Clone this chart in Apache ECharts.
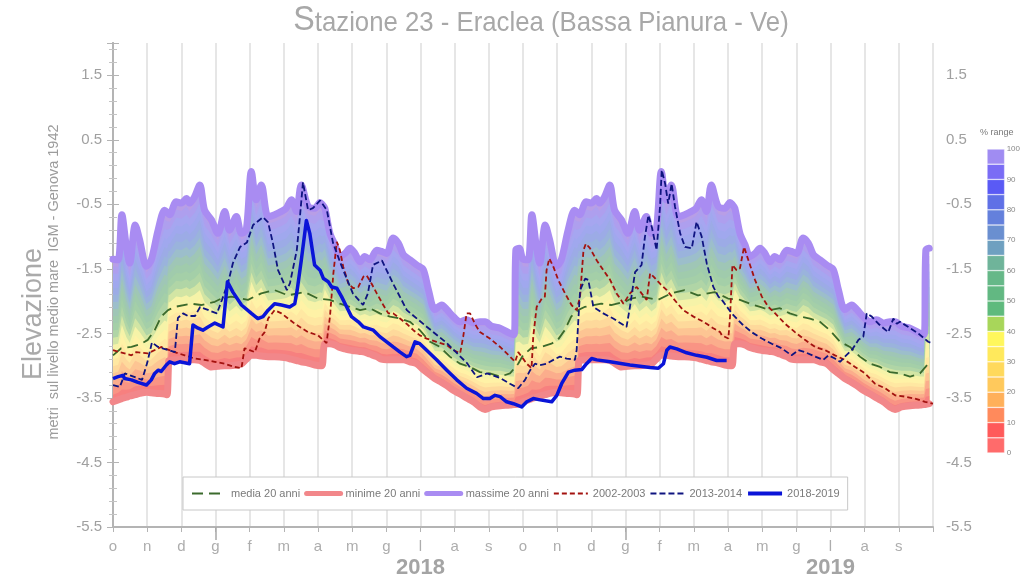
<!DOCTYPE html>
<html><head><meta charset="utf-8">
<script src="https://cdn.jsdelivr.net/npm/echarts@6/dist/echarts.min.js"></script>
<style>html,body{margin:0;padding:0;background:#fff}#c{width:1023px;height:586px}</style>
</head><body><div id="c"></div>
<script>
// ---------- categories / tick labels ----------
const monthLetters = ['o','n','d','g','f','m','a','m','g','l','a','s'];
const yearTickMonths = [3, 15];          // long ticks (gennaio)
const yearLabelMonths = [9, 21];
const yearLabels = ['2018', '2019'];
const rangeCells = ['0-5','5-10','10-15','15-20','20-25','25-30','30-35','35-40','40-45','45-50',
  '50-55','55-60','60-65','65-70','70-75','75-80','80-85','85-90','90-95','95-100'];

// ---------- 20-year envelope (months since 1 Oct 2017) ----------
const envMonth = [
  0,0.15,0.26,0.39,0.49,0.65,0.78,0.98,1.12,1.32,
  1.51,1.58,1.63,1.66,1.85,2.00,2.15,2.24,2.39,2.54,
  2.68,2.88,3.07,3.27,3.41,3.61,3.76,3.90,4.05,4.19,
  4.34,4.54,4.73,4.93,5.07,5.22,5.37,5.51,5.71,5.91,
  6.06,6.12,6.20,6.35,6.50,6.64,6.79,6.94,7.08,7.23,
  7.37,7.52,7.72,7.86,8.01,8.20,8.35,8.50,8.69,8.89,
  9.08,9.23,9.42,9.62,9.77,9.96,10.16,10.35,10.55,10.74,
  10.89,11.08,11.33,11.62,11.74,11.79,11.89,
  12.00,12.15,12.26,12.39,12.49,12.65,12.78,12.98,13.12,13.32,
  13.51,13.58,13.63,13.66,13.85,14.00,14.15,14.24,14.39,14.54,
  14.68,14.88,15.07,15.27,15.41,15.61,15.76,15.90,16.05,16.19,
  16.34,16.54,16.73,16.93,17.07,17.22,17.37,17.51,17.71,17.91,
  18.06,18.12,18.20,18.35,18.50,18.64,18.79,18.94,19.08,19.23,
  19.37,19.52,19.72,19.86,20.01,20.20,20.35,20.50,20.69,20.89,
  21.08,21.23,21.42,21.62,21.77,21.96,22.16,22.35,22.55,22.74,
  22.89,23.08,23.33,23.62,23.74,23.79,23.89
];
const envMinYear = [
  -3.56,-3.53,-3.51,-3.49,-3.47,-3.45,-3.43,-3.41,-3.42,-3.43,
  -3.44,-3.45,-2.93,-2.92,-2.91,-2.91,-2.91,-2.91,-2.91,-2.92,
  -2.96,-3.02,-3.01,-3.00,-3.00,-2.99,-2.97,-2.90,-2.84,-2.84,
  -2.85,-2.86,-2.86,-2.87,-2.88,-2.90,-2.92,-2.94,-2.96,-2.99,
  -3.00,-3.00,-2.66,-2.66,-2.68,-2.72,-2.74,-2.76,-2.77,-2.78,
  -2.79,-2.82,-2.86,-2.90,-2.91,-2.91,-2.91,-2.91,-2.94,-2.97,
  -3.06,-3.12,-3.20,-3.26,-3.31,-3.38,-3.44,-3.50,-3.56,-3.64,
  -3.68,-3.64,-3.62,-3.61,-3.60,-3.60,-3.59
];
const envMaxYear = [
  -1.35,-1.36,-0.66,-1.15,-1.41,-0.82,-1.05,-1.46,-1.36,-0.90,
  -0.59,-0.62,-0.65,-0.66,-0.46,-0.48,-0.41,-0.48,-0.38,-0.20,
  -0.59,-0.74,-0.95,-0.61,-0.90,-0.69,-0.95,-0.90,0.01,-0.43,
  -0.20,-0.69,-0.66,-0.61,-0.56,-0.43,-0.61,-0.20,-0.53,-0.56,
  -0.47,-0.50,-0.56,-0.95,-1.13,-1.31,-1.26,-1.18,-1.26,-1.39,
  -1.31,-1.36,-1.21,-1.23,-1.26,-1.02,-1.10,-1.28,-1.36,-1.44,
  -1.51,-1.82,-2.13,-2.06,-2.13,-2.24,-2.32,-2.29,-2.34,-2.32,
  -2.32,-2.39,-2.42,-2.50,-2.52,-1.21,-1.18
];
const envMin = envMinYear.concat(envMinYear);
const envMax = envMaxYear.concat(envMaxYear);

// media 20 anni
const mediaMonth = [
  0,0.24,0.54,0.83,1.02,1.22,1.41,1.61,1.80,2.29,2.58,2.98,3.17,3.46,3.95,4.34,4.73,5.12,5.61,6.0,
  6.35,6.64,6.94,7.23,7.52,7.81,8.11,8.40,8.69,8.98,9.28,9.57,9.86,10.16,10.45,10.74,11.03,11.33,11.62,11.86,
  12,12.24,12.54,12.83,13.02,13.22,13.41,13.61,13.80,14.29,14.58,14.98,15.17,15.46,15.95,16.34,16.73,17.12,17.61,18.0,
  18.35,18.64,18.94,19.23,19.52,19.81,20.11,20.40,20.69,20.98,21.28,21.57,21.86,22.16,22.45,22.74,23.03,23.33,23.62,23.86
];
const mediaYear = [
  -2.84,-2.73,-2.71,-2.66,-2.60,-2.45,-2.24,-2.14,-2.09,-2.04,-2.06,-2.01,-1.96,-1.93,-1.98,-1.88,-1.83,-1.91,-1.86,-1.96,
  -1.98,-2.04,-2.09,-2.14,-2.11,-2.19,-2.24,-2.27,-2.32,-2.45,-2.63,-2.71,-2.86,-2.97,-3.02,-3.10,-3.12,-3.17,-3.12,-2.97
];
const mediaVal = mediaYear.concat(mediaYear);

// 2002-2003
const y0203 = [[0,-2.76],[0.34,-2.81],[0.54,-2.84],[0.68,-2.79],[1.02,-2.81],[1.41,-2.71],[1.80,-2.79],[2.10,-2.84],
  [2.39,-2.89],[2.68,-2.91],[2.98,-2.94],[3.27,-2.97],[3.56,-3.02],[3.76,-3.04],[3.85,-2.73],[4.00,-2.76],[4.15,-2.79],
  [4.29,-2.58],[4.44,-2.48],[4.54,-2.27],[4.73,-2.14],[4.93,-2.19],[5.32,-2.35],[5.71,-2.48],[6.0,-2.53],[6.25,-2.65],
  [6.35,-2.24],[6.45,-1.57],[6.55,-1.08],[6.64,-1.21],[6.74,-1.47],[6.89,-1.73],[7.03,-1.80],[7.18,-1.78],[7.33,-1.62],
  [7.42,-1.60],[7.57,-1.73],[7.72,-1.88],[7.91,-2.06],[8.06,-2.19],[8.20,-2.19],[8.40,-2.27],[8.59,-2.35],[8.79,-2.45],
  [8.98,-2.53],[9.18,-2.58],[9.47,-2.63],[9.77,-2.68],[9.96,-2.76],[10.16,-2.81],[10.25,-2.55],[10.35,-2.19],[10.45,-2.19],
  [10.59,-2.35],[10.74,-2.48],[11.03,-2.58],[11.33,-2.71],[11.62,-2.86],[11.77,-2.94],[11.86,-2.79],[11.96,-2.86],
  [12.11,-2.97],[12.25,-3.04],[12.30,-2.55],[12.40,-2.09],[12.55,-1.96],[12.64,-1.93],[12.69,-1.52],[12.77,-1.34],
  [12.89,-1.47],[13.03,-1.67],[13.23,-1.88],[13.42,-2.06],[13.57,-2.14],[13.67,-1.93],[13.77,-1.21],[13.84,-1.11],
  [13.96,-1.18],[14.16,-1.37],[14.35,-1.52],[14.55,-1.67],[14.74,-1.88],[14.94,-2.04],[15.13,-1.88],[15.33,-1.78],
  [15.47,-1.88],[15.62,-1.98],[15.72,-1.57],[15.82,-1.62],[16.01,-1.73],[16.21,-1.83],[16.40,-1.96],[16.69,-2.14],
  [16.99,-2.24],[17.28,-2.32],[17.57,-2.42],[17.77,-2.48],[17.82,-2.53],[18.01,-2.58],[18.06,-2.24],[18.13,-1.44],
  [18.25,-1.52],[18.35,-1.49],[18.47,-1.16],[18.60,-1.37],[18.79,-1.67],[18.99,-1.93],[19.18,-2.09],[19.38,-2.19],
  [19.67,-2.35],[19.96,-2.48],[20.25,-2.60],[20.55,-2.71],[20.84,-2.76],[21.13,-2.84],[21.42,-2.91],[21.72,-3.02],
  [22.01,-3.12],[22.30,-3.28],[22.60,-3.35],[22.89,-3.46],[23.19,-3.48],[23.47,-3.51],[23.77,-3.56],[24.0,-3.59]];

// 2013-2014
const y1314 = [[0,-3.30],[0.2,-3.33],[0.35,-3.12],[0.85,-3.22],[1.0,-2.96],[1.14,-2.64],[1.32,-2.71],[1.81,-2.79],
  [1.90,-2.26],[2.05,-2.19],[2.19,-2.23],[2.40,-2.23],[2.55,-2.09],[3.04,-2.19],[3.19,-1.98],[3.37,-1.71],[3.51,-1.41],
  [3.72,-1.16],[3.92,-1.09],[4.10,-0.82],[4.39,-0.70],[4.54,-0.78],[4.68,-1.10],[4.83,-1.52],[5.09,-1.83],[5.18,-1.72],
  [5.38,-1.21],[5.47,-0.70],[5.56,-0.16],[5.71,-0.59],[5.85,-0.56],[6.06,-0.44],[6.26,-0.59],[6.44,-1.10],[6.70,-1.47],
  [7.02,-1.88],[7.32,-2.06],[7.46,-1.88],[7.61,-1.44],[7.87,-1.37],[8.19,-1.72],[8.60,-2.14],[9.19,-2.40],[9.77,-2.65],
  [10.36,-2.96],[10.65,-3.18],[10.95,-3.12],[11.33,-3.19],[11.62,-3.28],[11.86,-3.35],[12.06,-3.22],[12.21,-3.07],
  [12.35,-2.97],[12.50,-2.99],[12.69,-2.97],[12.89,-2.91],[13.08,-2.86],[13.28,-2.89],[13.52,-2.91],[13.57,-2.76],
  [13.67,-1.83],[13.82,-1.65],[13.91,-1.67],[14.06,-2.09],[14.35,-2.19],[14.64,-2.27],[14.94,-2.37],[15.03,-2.40],
  [15.13,-2.09],[15.28,-1.55],[15.47,-1.44],[15.57,-1.00],[15.67,-0.67],[15.77,-0.85],[15.91,-1.21],[16.01,-0.54],
  [16.06,0.03],[16.16,-0.18],[16.25,-0.49],[16.35,-0.18],[16.45,-0.54],[16.60,-0.95],[16.74,-1.16],[16.94,-1.18],
  [17.08,-0.77],[17.23,-1.00],[17.38,-1.42],[17.57,-1.78],[17.72,-1.93],[17.82,-1.98],[18.11,-2.19],[18.40,-2.35],
  [18.69,-2.48],[18.99,-2.58],[19.28,-2.66],[19.57,-2.73],[19.86,-2.84],[20.06,-2.76],[20.25,-2.79],[20.55,-2.86],
  [20.79,-2.91],[20.94,-2.84],[21.13,-2.89],[21.28,-2.94],[21.42,-2.86],[21.62,-2.76],[21.82,-2.60],[21.96,-2.55],
  [22.06,-2.19],[22.21,-2.24],[22.40,-2.35],[22.55,-2.42],[22.69,-2.48],[22.84,-2.27],[22.94,-2.35],[23.03,-2.32],
  [23.28,-2.40],[23.57,-2.50],[23.86,-2.63],[24.0,-2.66]];

// 2018-2019
const y1819 = [[0,-3.20],[0.15,-3.17],[0.29,-3.15],[0.34,-3.20],[0.54,-3.22],[0.73,-3.26],[0.98,-3.30],[1.12,-3.22],
  [1.22,-3.12],[1.32,-3.07],[1.41,-3.09],[1.56,-2.99],[1.66,-2.94],[1.80,-2.97],[1.95,-2.94],[2.24,-2.97],[2.34,-2.37],
  [2.49,-2.42],[2.63,-2.45],[2.78,-2.40],[2.98,-2.34],[3.22,-2.40],[3.35,-1.70],[3.51,-1.86],[3.76,-2.06],[4.05,-2.19],
  [4.24,-2.27],[4.39,-2.24],[4.54,-2.14],[4.73,-2.04],[4.93,-2.06],[5.17,-2.09],[5.32,-2.04],[5.39,-1.83],[5.51,-1.37],
  [5.66,-0.75],[5.76,-0.95],[5.90,-1.44],[6.06,-1.52],[6.16,-1.65],[6.30,-1.70],[6.40,-1.78],[6.55,-1.80],[6.69,-1.93],
  [6.84,-2.09],[6.98,-2.24],[7.18,-2.32],[7.33,-2.40],[7.62,-2.45],[7.81,-2.55],[8.01,-2.63],[8.20,-2.71],[8.40,-2.79],
  [8.59,-2.86],[8.69,-2.84],[8.84,-2.63],[8.98,-2.66],[9.18,-2.76],[9.47,-2.91],[9.77,-3.07],[10.06,-3.22],[10.35,-3.35],
  [10.64,-3.43],[10.84,-3.51],[11.03,-3.51],[11.18,-3.46],[11.33,-3.48],[11.52,-3.56],[11.72,-3.59],[11.96,-3.64],
  [12.11,-3.56],[12.30,-3.51],[12.50,-3.53],[12.84,-3.56],[12.99,-3.46],[13.13,-3.28],[13.33,-3.10],[13.52,-3.07],
  [13.72,-3.06],[13.86,-2.97],[14.01,-2.89],[14.16,-2.91],[14.55,-2.94],[15.13,-2.99],[15.72,-3.03],[15.96,-3.04],
  [16.11,-2.97],[16.21,-2.76],[16.30,-2.71],[16.50,-2.74],[16.79,-2.80],[17.08,-2.84],[17.38,-2.87],[17.67,-2.92],[17.96,-2.92]];

// ---------- styles ----------
const SANS = "'Liberation Sans',Arial,sans-serif";
const LEGEND_COLORS = ['#ff6b6b','#ff5a5a','#ff8a5c','#ffb05a','#ffc95c','#ffd95c','#ffe95c','#fff75c','#a8d65a','#5fba7d',
  '#62b882','#66b888','#6fb49a','#6fa0c0','#6a8fd0','#6480dc','#5f70e6','#5a5af5','#7a6cf5','#a08cf2'];
const BAND_COLORS = ['#f7807f','#f99484','#fbad8c','#fdc593','#fed99b','#ffe8a2','#fff2a6','#f6f3a8','#d2e5a4','#b0d5a6',
  '#a4cfa8','#a0cbac','#9fc6b6','#9cbecb','#9ab3dc','#9cabe6','#a0a8ee','#a6a6f0','#ae9fee','#b89ee6'];

const chart = echarts.init(document.getElementById('c'), null, {renderer: 'canvas'});
const pairs = (ms, vs) => ms.map((m, i) => [m, vs[i]]);
const bandData = BAND_COLORS.map((c, k) => [BAND_COLORS.length - 1 - k, -1]);

const yAxisCommon = {
  type: 'value', min: -5.5, max: 2.0, interval: 1, gridIndex: 0,
  axisLine: {show: true, lineStyle: {color: '#b4b4b4', width: 2}},
  axisTick: {show: true, length: 6, lineStyle: {color: '#b4b4b4'}},
  minorTick: {show: true, splitNumber: 5, length: 4, lineStyle: {color: '#c4c4c4'}},
  splitLine: {show: false},
  axisLabel: {showMaxLabel: false, fontSize: 15, color: '#a0a0a0', fontFamily: SANS, margin: 11}
};
const noSym = {itemStyle: {opacity: 0}};

chart.setOption({
  animation: false,
  backgroundColor: '#fff',
  title: [
    {text: '% range', left: 980, top: 128, padding: 0,
     textStyle: {fontSize: 9, color: '#777', fontWeight: 'normal', fontFamily: SANS}}
  ],
  graphic: [
    {type: 'text', x: 541, y: 20, scaleX: 0.92, scaleY: 1,
     style: {text: '{s|S}{t|tazione 23 - Eraclea (Bassa Pianura - Ve)}', textAlign: 'center', textVerticalAlign: 'middle',
       rich: {s: {fontSize: 35, fill: '#a8a8a8', fontFamily: SANS, verticalAlign: 'bottom'},
              t: {fontSize: 28, fill: '#a8a8a8', fontFamily: SANS, verticalAlign: 'bottom'}}}},
    {type: 'text', x: 34, y: 314, rotation: Math.PI / 2,
     style: {text: 'Elevazione', fontSize: 27, fill: '#aaaaaa', fontFamily: SANS, textAlign: 'center', textVerticalAlign: 'middle'}},
    {type: 'text', x: 54, y: 282, rotation: Math.PI / 2,
     style: {text: 'metri  sul livello medio mare  IGM - Genova 1942', fontSize: 14.5, fill: '#9c9c9c', fontFamily: SANS, textAlign: 'center', textVerticalAlign: 'middle'}}
  ],
  legend: {
    data: [
      Object.assign({name: 'media 20 anni', lineStyle: {width: 2}}, noSym),
      Object.assign({name: 'minime 20 anni', lineStyle: {width: 5}}, noSym),
      Object.assign({name: 'massime 20 anni', lineStyle: {width: 5}}, noSym),
      Object.assign({name: '2002-2003', lineStyle: {width: 2}}, noSym),
      Object.assign({name: '2013-2014', lineStyle: {width: 2}}, noSym),
      Object.assign({name: '2018-2019', lineStyle: {width: 4}}, noSym)
    ],
    left: 183, top: 477, padding: [11, 8], itemGap: 4, itemWidth: 34, itemHeight: 10,
    backgroundColor: '#fff', borderColor: '#c8c8c8', borderWidth: 1, borderRadius: 0,
    textStyle: {fontSize: 11, color: '#7a7a7a', fontFamily: SANS},
    selectedMode: false
  },
  grid: [
    {left: 113, top: 43, width: 820, height: 484},
    {left: 987, top: 149, width: 20, height: 304}
  ],
  xAxis: [
    {type: 'value', gridIndex: 0, min: 0, max: 24, interval: 1, position: 'bottom',
     axisLine: {show: true, onZero: false, lineStyle: {color: '#b4b4b4', width: 2}},
     axisTick: {show: true, length: 5, lineStyle: {color: '#b4b4b4'}},
     axisLabel: {fontSize: 15, color: '#adadad', fontFamily: SANS, margin: 12,
       formatter: v => v >= 24 ? '' : monthLetters[v % 12]},
     splitLine: {show: true, lineStyle: {color: '#dedede', width: 1.5}}},
    {type: 'value', gridIndex: 0, min: 0, max: 24, position: 'bottom',
     axisLine: {show: false, onZero: false},
     axisTick: {show: true, customValues: yearTickMonths, length: 13, lineStyle: {color: '#a8a8a8', width: 1.5}},
     axisLabel: {show: true, customValues: yearLabelMonths, margin: 30, fontSize: 22, fontWeight: 'bold',
       color: '#a4a4a4', fontFamily: SANS,
       formatter: v => yearLabels[yearLabelMonths.indexOf(v)] || ''},
     splitLine: {show: false}},
    {type: 'value', gridIndex: 1, min: 0, max: 1, show: false}
  ],
  yAxis: [
    Object.assign({}, yAxisCommon, {position: 'left'}),
    Object.assign({}, yAxisCommon, {position: 'right', axisLabel: Object.assign({}, yAxisCommon.axisLabel, {margin: 13})}),
    {type: 'category', gridIndex: 1, data: rangeCells, show: false},
    {type: 'value', gridIndex: 1, min: 0, max: 100, interval: 10, position: 'right',
     axisLine: {show: false}, axisTick: {show: false}, splitLine: {show: false},
     axisLabel: {fontSize: 8, color: '#888', fontFamily: SANS, margin: 2}}
  ],
  series: [
    {name: 'bands', type: 'custom', xAxisIndex: 0, yAxisIndex: 0, silent: true, clip: true, z: 1,
     data: bandData,
     renderItem: function (params, api) {
       const k = api.value(0);
       const frac = (k + 1) / BAND_COLORS.length;
       const top = [], bot = [];
       for (let i = 0; i < envMonth.length; i++) {
         const lo = envMin[i], hi = envMax[i];
         top.push(api.coord([envMonth[i], lo + frac * (hi - lo)]));
         bot.push(api.coord([envMonth[i], lo]));
       }
       bot.reverse();
       return {type: 'polygon', shape: {points: top.concat(bot)}, style: {fill: BAND_COLORS[k]}};
     }},
    {name: 'minime 20 anni', type: 'line', data: pairs(envMonth, envMin), symbol: 'none', showSymbol: false, smooth: 0.3, z: 2,
     lineStyle: {color: '#f2878a', width: 7, cap: 'round', join: 'round'}, itemStyle: {color: '#f2878a'}},
    {name: 'massime 20 anni', type: 'line', data: pairs(envMonth, envMax), symbol: 'none', showSymbol: false, smooth: 0.3, z: 2,
     lineStyle: {color: '#a98cf2', width: 7, cap: 'round', join: 'round'}, itemStyle: {color: '#a98cf2'}},
    {name: 'media 20 anni', type: 'line', data: pairs(mediaMonth, mediaVal), symbol: 'none', showSymbol: false, z: 3,
     lineStyle: {color: '#3b6a2c', width: 1.8, type: [11, 6]}, itemStyle: {color: '#3b6a2c'}},
    {name: '2002-2003', type: 'line', data: y0203, symbol: 'none', showSymbol: false, z: 3,
     lineStyle: {color: '#a3120f', width: 1.8, type: [5, 3]}, itemStyle: {color: '#a3120f'}},
    {name: '2013-2014', type: 'line', data: y1314, symbol: 'none', showSymbol: false, z: 3,
     lineStyle: {color: '#0f1480', width: 1.8, type: [6, 3]}, itemStyle: {color: '#0f1480'}},
    {name: '2018-2019', type: 'line', data: y1819, symbol: 'none', showSymbol: false, z: 4,
     lineStyle: {color: '#0a14d8', width: 3.5, join: 'round'}, itemStyle: {color: '#0a14d8'}},
    {name: 'range', type: 'bar', xAxisIndex: 2, yAxisIndex: 2, barCategoryGap: '0%', silent: true,
     data: LEGEND_COLORS.map(c => ({value: 1, itemStyle: {color: c, borderColor: 'rgba(255,255,255,0.6)', borderWidth: 0.6}}))}
  ]
});
</script></body></html>
